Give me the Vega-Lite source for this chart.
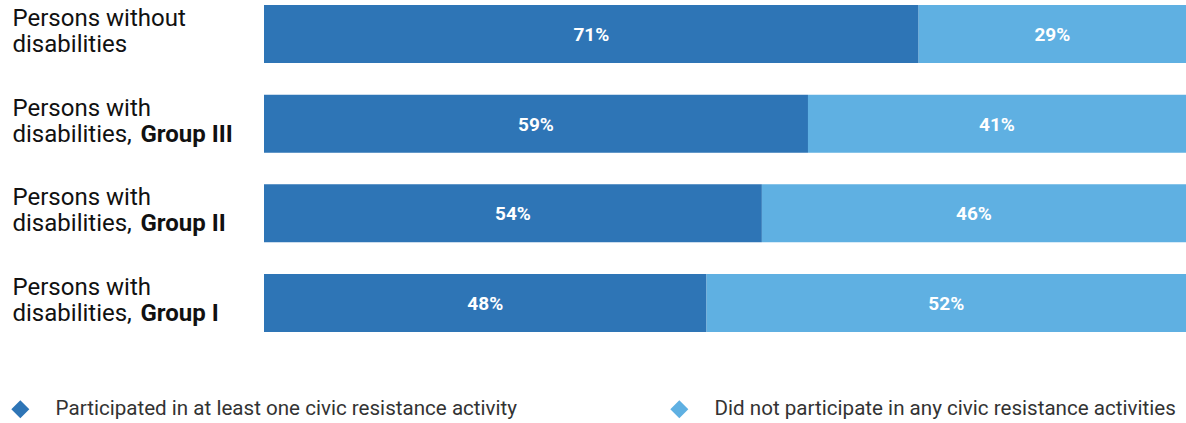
{
  "$schema": "https://vega.github.io/schema/vega-lite/v6.json",
  "width": 922,
  "height": 327,
  "autosize": "none",
  "padding": {"left": 264, "top": 5, "right": 0, "bottom": 91},
  "background": "white",
  "config": {"view": {"stroke": null}, "font": "Roboto"},
  "data": {
    "values": [
      {"group": "Persons without disabilities", "response": "Participated in at least one civic resistance activity", "share": 0.71},
      {"group": "Persons without disabilities", "response": "Did not participate in any civic resistance activities", "share": 0.29},
      {"group": "Persons with disabilities, Group III", "response": "Participated in at least one civic resistance activity", "share": 0.59},
      {"group": "Persons with disabilities, Group III", "response": "Did not participate in any civic resistance activities", "share": 0.41},
      {"group": "Persons with disabilities, Group II", "response": "Participated in at least one civic resistance activity", "share": 0.54},
      {"group": "Persons with disabilities, Group II", "response": "Did not participate in any civic resistance activities", "share": 0.46},
      {"group": "Persons with disabilities, Group I", "response": "Participated in at least one civic resistance activity", "share": 0.48},
      {"group": "Persons with disabilities, Group I", "response": "Did not participate in any civic resistance activities", "share": 0.52}
    ]
  },
  "transform": [
    {"stack": "share", "groupby": ["group"], "sort": [{"field": "response", "order": "descending"}], "as": ["x0", "x1"]},
    {"calculate": "(datum.x0 + datum.x1) / 2", "as": "xmid"}
  ],
  "layer": [
    {
      "mark": {"type": "bar"},
      "encoding": {
        "x": {"field": "x0", "type": "quantitative", "scale": {"domain": [0, 1], "nice": false, "zero": true}, "axis": null},
        "x2": {"field": "x1"},
        "y": {
          "field": "group", "type": "nominal", "sort": null,
          "scale": {"paddingInner": 0.353, "paddingOuter": 0},
          "axis": {
            "title": null, "domain": false, "ticks": false, "orient": "left",
            "labelAlign": "left", "labelBaseline": "middle", "labelPadding": 252, "labelOffset": -15,
            "labelFontSize": 24, "labelLineHeight": 26, "labelColor": "#111111", "labelLimit": 400,
            "labelExpr": "datum.value == 'Persons without disabilities' ? ['Persons without', 'disabilities'] : ['Persons with', 'disabilities,']"
          }
        },
        "color": {
          "field": "response", "type": "nominal",
          "scale": {
            "domain": ["Participated in at least one civic resistance activity", "Did not participate in any civic resistance activities"],
            "range": ["#2E75B6", "#5FB0E2"]
          },
          "legend": {
            "title": null, "orient": "none", "legendX": -254, "legendY": 394,
            "direction": "horizontal", "columns": 2, "symbolType": "diamond", "symbolSize": 324,
            "symbolStrokeWidth": 0, "labelFontSize": 20.6, "labelColor": "#333333", "labelOffset": 25,
            "columnPadding": 151, "labelLimit": 700
          }
        }
      }
    },
    {
      "mark": {"type": "text", "color": "white", "fontWeight": "bold", "fontSize": 19, "baseline": "middle", "align": "center", "dy": 1},
      "encoding": {
        "x": {"field": "xmid", "type": "quantitative"},
        "y": {
          "field": "group", "type": "nominal", "sort": null,
          "axis": {
            "title": null, "domain": false, "ticks": false, "orient": "left",
            "labelAlign": "left", "labelBaseline": "middle", "labelPadding": 124, "labelOffset": -15,
            "labelFontSize": 24, "labelLineHeight": 26, "labelColor": "#111111", "labelFontWeight": "bold", "labelLimit": 400,
            "labelExpr": "indexof(datum.value, 'Group') >= 0 ? ['', substring(datum.value, indexof(datum.value, 'Group'))] : ''"
          }
        },
        "text": {"field": "share", "type": "quantitative", "format": ".0%"}
      }
    }
  ],
  "resolve": {"axis": {"y": "independent"}}
}
